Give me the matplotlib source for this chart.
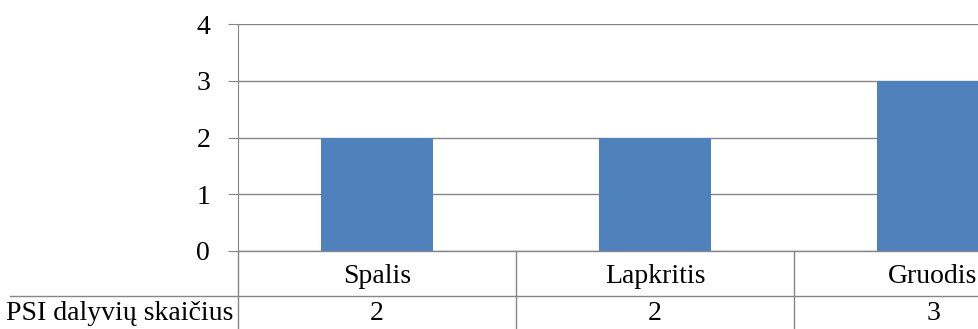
import matplotlib.pyplot as plt

months = ["Spalis", "Lapkritis", "Gruodis"]
participants = [2, 2, 3]
series_name = "PSI dalyvių skaičius"
y_ticks = [0, 1, 2, 3, 4]

W, H = 979, 329
fig = plt.figure(figsize=(W / 100, H / 100), dpi=100)
plt.rcParams["font.family"] = ["Liberation Serif", "DejaVu Serif"]

grid_c = "#868686"
bar_c = "#4F81BD"
fs = 20

# plot area in pixels (left, top, right, bottom); right side runs past the figure edge
left, top, right, bottom = 238, 24, 1072, 251
ax = fig.add_axes([left / W, 1 - bottom / H, (right - left) / W, (bottom - top) / H])
x = list(range(len(months)))
ax.bar(x, participants, width=0.4, color=bar_c, zorder=3)
ax.set_xlim(-0.5, len(months) - 0.5)
ax.set_ylim(0, 4)
ax.set_yticks(y_ticks)
ax.yaxis.grid(True, color=grid_c, lw=1.0)
ax.set_axisbelow(True)
for s in ["top", "right", "bottom"]:
    ax.spines[s].set_visible(False)
ax.spines["left"].set_color(grid_c)
ax.tick_params(axis="y", length=7, color=grid_c, labelsize=fs, pad=13)
ax.tick_params(axis="x", bottom=False, labelbottom=False)

# data table under the plot
px = (bottom - top) / 4.0          # pixels per data unit
row_h = 45 / px
tb_bottom = -(H - bottom + 5) / px
kw = dict(color=grid_c, lw=1.0, clip_on=False, zorder=2)
ax.plot([-0.5, len(months) - 0.5], [0, 0], **kw)
ax.plot([-0.5, -0.5], [0, tb_bottom], **kw)
ax.plot([-0.5 - (left - 10) / 278, len(months) - 0.5], [-row_h, -row_h], **kw)
for b in range(1, len(months)):
    ax.plot([b - 0.5, b - 0.5], [0, tb_bottom], **kw)
row2_y = -row_h - 18 / px
for i, (m, v) in enumerate(zip(months, participants)):
    ax.text(i, -row_h / 2 - 0.05, m, ha="center", va="center", fontsize=fs, clip_on=False)
    ax.text(i, row2_y, str(v), ha="center", va="center", fontsize=fs, clip_on=False)
ax.text(-0.5 - 5 / 278, row2_y, series_name, ha="right", va="center", fontsize=fs, clip_on=False)

fig.savefig("out.png", dpi=100)
